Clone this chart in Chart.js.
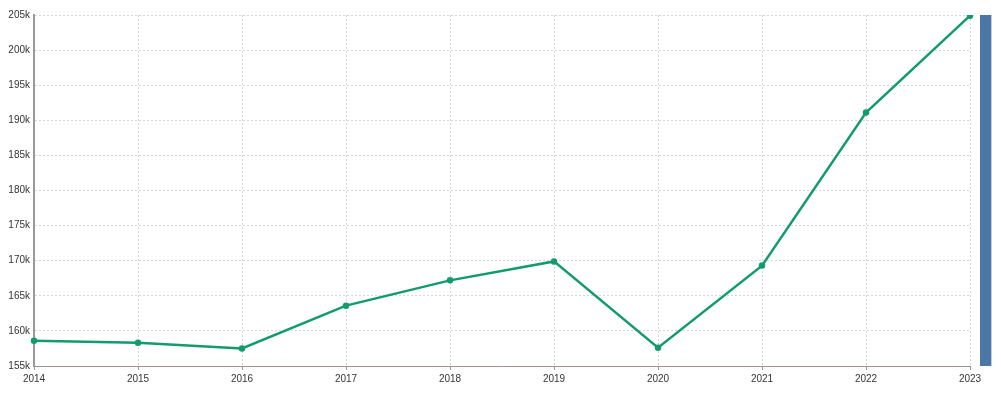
<!DOCTYPE html>
<html>
<head>
<meta charset="utf-8">
<script src="https://cdn.jsdelivr.net/npm/chart.js@4"></script>
<style>
  html, body { margin: 0; padding: 0; background: #fff; }
  #wrap { position: relative; width: 1001px; height: 398px; }
  #side-bar {
    position: absolute; left: 980px; top: 15px; width: 11px; height: 351px;
    background: #4a76a8; border-right: 1px solid #c8ccd2;
  }
</style>
</head>
<body>
<div id="wrap">
  <canvas id="chart" width="1001" height="398"></canvas>
  <div id="side-bar"></div>
</div>
<script>
// Chart data
const years = ['2014', '2015', '2016', '2017', '2018', '2019', '2020', '2021', '2022', '2023'];
const values = [158600, 158300, 157500, 163600, 167200, 169900, 157600, 169300, 191100, 204900];
const yMin = 155000;
const yMax = 205000;
const yStep = 5000;

function formatK(v) {
    return (v / 1000) + 'k';
}

const ctx = document.getElementById('chart').getContext('2d');

new Chart(ctx, {
    type: 'line',
    data: {
        labels: years,
        datasets: [{
            data: values,
            borderColor: '#119b6f',
            backgroundColor: '#119b6f',
            borderWidth: 2.5,
            pointRadius: 2,
            pointHoverRadius: 3,
            tension: 0,
            fill: false
        }]
    },
    options: {
        responsive: false,
        animation: false,
        layout: { padding: { top: 15, right: 31, left: 0, bottom: 0 } },
        plugins: {
            legend: { display: false },
            tooltip: { enabled: false }
        },
        scales: {
            x: {
                offset: false,
                grid: {
                    color: '#d6d6d6',
                    tickColor: '#999',
                    tickLength: 4
                },
                // in v4 border.dash styles the grid lines
                border: { color: '#a38d8d', width: 1, dash: [2, 2] },
                ticks: {
                    color: '#333',
                    font: { family: 'Liberation Sans, Arial', size: 10 },
                    padding: 3,
                    maxRotation: 0
                },
                afterFit: (scale) => { scale.height = 32; }
            },
            y: {
                min: yMin,
                max: yMax,
                grid: {
                    color: '#d6d6d6',
                    drawTicks: false
                },
                border: { color: '#999', width: 2, dash: [2, 2] },
                ticks: {
                    stepSize: yStep,
                    color: '#333',
                    font: { family: 'Liberation Sans, Arial', size: 10 },
                    padding: 4,
                    callback: (v) => formatK(v)
                },
                afterFit: (scale) => { scale.width = 34; }
            }
        }
    }
});
</script>
</body>
</html>
